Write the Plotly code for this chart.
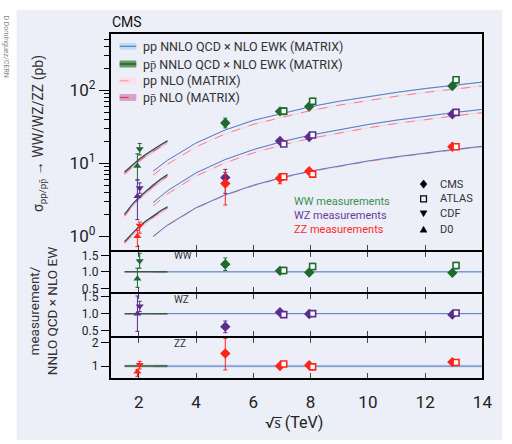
import plotly.graph_objects as go

# ---------------- theory predictions (pb) ----------------
sqrt_s_pp = [2.5, 3, 4, 5, 6, 7, 8, 9, 10, 11, 12, 13, 14]
ww_nnlo_pp = [7.8, 11.0, 19.0, 28.5, 38.8, 48.6, 59.8, 71.0, 82.5, 94.0, 106.0, 118.0, 130.0]
ww_nlo_pp = [6.9, 9.7, 16.8, 25.2, 34.3, 43.0, 52.9, 62.8, 73.0, 83.2, 93.8, 104.4, 115.0]
wz_nnlo_pp = [2.9, 4.2, 7.4, 11.2, 15.4, 19.8, 24.4, 29.1, 34.0, 39.1, 44.3, 49.6, 55.0]
wz_nlo_pp = [2.6, 3.8, 6.7, 10.1, 13.9, 17.8, 22.0, 26.2, 30.6, 35.2, 39.9, 44.6, 49.5]
zz_nnlo_pp = [1.0, 1.42, 2.46, 3.67, 5.0, 6.4, 7.82, 9.27, 10.76, 12.3, 13.87, 15.47, 17.1]
zz_nlo_pp = [0.985, 1.40, 2.43, 3.62, 4.93, 6.31, 7.71, 9.14, 10.6, 12.1, 13.67, 15.25, 16.85]

sqrt_s_ppbar = [1.5, 1.75, 2.0, 2.25, 2.5, 2.75, 3.0]
ww_nnlo_ppbar = [7.6, 9.4, 11.3, 13.3, 15.5, 17.8, 20.3]
ww_nlo_ppbar = [7.2, 8.9, 10.7, 12.6, 14.7, 16.9, 19.3]
wz_nnlo_ppbar = [2.0, 2.67, 3.4, 4.2, 5.05, 6.0, 7.0]
wz_nlo_ppbar = [1.9, 2.55, 3.25, 4.0, 4.8, 5.7, 6.65]
zz_nnlo_ppbar = [0.84, 1.08, 1.35, 1.62, 1.92, 2.22, 2.53]
zz_nlo_ppbar = [0.81, 1.04, 1.30, 1.56, 1.85, 2.14, 2.44]

# relative half-widths of the uncertainty bands
band_pp_nnlo = 0.018
band_pp_nlo = 0.02
band_ppbar_nnlo = 0.02
band_ppbar_nlo = 0.05
ratio_band = {"WW": 0.02, "WZ": 0.02, "ZZ": 0.06}

# ---------------- measurements ----------------
# each entry: sqrt(s) (TeV), sigma, +err, -err, ratio, +err, -err
ww_d0 = dict(x=[1.95], y=[9.2], up=[4.3], dn=[3.3], r=[0.79], rup=[0.32], rdn=[0.26])
ww_cdf = dict(x=[2.03], y=[15.7], up=[3.0], dn=[2.7], r=[1.33], rup=[0.23], rdn=[0.22])
ww_cms = dict(x=[5.02, 6.93, 7.95, 12.95], y=[35.7, 51.5, 60.0, 114.5],
              up=[5.9, 4.0, 5.0, 8.0], dn=[5.1, 4.0, 5.0, 8.0],
              r=[1.23, 1.03, 0.98, 0.97], rup=[0.19, 0.07, 0.08, 0.07], rdn=[0.19, 0.07, 0.08, 0.07])
ww_atlas = dict(x=[7.06, 8.07, 13.08], y=[51.9, 71.1, 140.0], up=[5.5, 7.0, 15.0], dn=[5.5, 7.0, 15.0],
                r=[1.04, 1.16, 1.19], rup=[0.1, 0.1, 0.1], rdn=[0.1, 0.1, 0.1])

wz_d0 = dict(x=[1.95], y=[3.54], up=[2.4], dn=[1.85], r=[1.0], rup=[0.53], rdn=[0.53])
wz_cdf = dict(x=[2.03], y=[4.58], up=[0.8], dn=[0.7], r=[1.22], rup=[0.15], rdn=[0.16])
wz_cms = dict(x=[5.02, 6.93, 7.95, 12.95], y=[6.36, 20.3, 22.9, 47.1],
              up=[1.9, 1.5, 1.5, 2.5], dn=[2.5, 1.5, 1.5, 2.5],
              r=[0.61, 1.04, 0.99, 0.97], rup=[0.17, 0.06, 0.05, 0.05], rdn=[0.18, 0.06, 0.05, 0.05])
wz_atlas = dict(x=[7.06, 8.07, 13.08], y=[18.4, 24.4, 50.0], up=[1.3, 1.2, 2.5], dn=[1.3, 1.2, 2.5],
                r=[0.97, 1.0, 1.02], rup=[0.06, 0.05, 0.05], rdn=[0.06, 0.05, 0.05])

zz_d0 = dict(x=[1.95], y=[1.0], up=[0.2], dn=[0.28], r=[0.76], rup=[0.1], rdn=[0.19])
zz_cdf = dict(x=[2.03], y=[1.40], up=[0.16], dn=[0.3], r=[1.06], rup=[0.14], rdn=[0.18])
zz_cms = dict(x=[5.02, 6.93, 7.95, 12.95], y=[5.28, 6.24, 7.8, 16.9],
              up=[2.2, 0.9, 0.6, 0.9], dn=[2.6, 1.0, 0.6, 0.9],
              r=[1.53, 1.0, 1.04, 1.17], rup=[0.64, 0.1, 0.06, 0.06], rdn=[0.69, 0.1, 0.06, 0.06])
zz_atlas = dict(x=[7.06, 8.07, 13.08], y=[6.55, 7.1, 16.9], up=[0.6, 0.5, 1.0], dn=[0.6, 0.5, 1.0],
                r=[1.09, 0.97, 1.15], rup=[0.08, 0.06, 0.06], rdn=[0.08, 0.06, 0.06])

x_ticks = [2, 4, 6, 8, 10, 12, 14]
y_major = [1, 10, 100]
y_major_text = ["10<sup>0</sup>", "10<sup>1</sup>", "10<sup>2</sup>"]
y_minor = [2, 3, 4, 5, 6, 7, 8, 9, 20, 30, 40, 50, 60, 70, 80, 90, 200, 300, 400, 500]

# ---------------- styling ----------------
W, H = 512, 444
BG = "#eceef8"
FONT = "Roboto"
C_WW, C_WZ, C_ZZ = "#1d6a2e", "#5b2d8e", "#ff2418"
C_PP = "#5a7cc4"
C_PP_BAND = "rgba(160,195,235,0.5)"
C_NLO = "#ff7b85"
C_NLO_BAND = "rgba(255,190,200,0.4)"
C_PPBAR = "#34484a"
C_PPBAR_BAND = "rgba(90,140,100,0.4)"
C_PPBAR_NLO_BAND = "rgba(225,130,185,0.45)"
LW = 2  # frame line width


def px(x):
    return x / W


def py(y):
    return 1 - y / H


fig = go.Figure()


def band(x, vals, frac, color, xa, ya):
    hi = [v * (1 + frac) for v in vals]
    lo = [v * (1 - frac) for v in vals]
    fig.add_trace(go.Scatter(x=x, y=hi, mode="lines", line=dict(width=0), hoverinfo="skip",
                             showlegend=False, xaxis=xa, yaxis=ya))
    fig.add_trace(go.Scatter(x=x, y=lo, mode="lines", line=dict(width=0), fill="tonexty",
                             fillcolor=color, hoverinfo="skip", showlegend=False, xaxis=xa, yaxis=ya))


def line(x, vals, color, width, dash, xa, ya):
    fig.add_trace(go.Scatter(x=x, y=vals, mode="lines", line=dict(color=color, width=width, dash=dash),
                             hoverinfo="skip", showlegend=False, xaxis=xa, yaxis=ya))


# theory curves in the cross-section panel
for nnlo, nlo in [(ww_nnlo_pp, ww_nlo_pp), (wz_nnlo_pp, wz_nlo_pp), (zz_nnlo_pp, zz_nlo_pp)]:
    band(sqrt_s_pp, nlo, band_pp_nlo, C_NLO_BAND, "x", "y")
    band(sqrt_s_pp, nnlo, band_pp_nnlo, C_PP_BAND, "x", "y")
    line(sqrt_s_pp, nlo, C_NLO, 1, "dash", "x", "y")
    line(sqrt_s_pp, nnlo, C_PP, 1, "solid", "x", "y")

for nnlo, nlo in [(ww_nnlo_ppbar, ww_nlo_ppbar), (wz_nnlo_ppbar, wz_nlo_ppbar), (zz_nnlo_ppbar, zz_nlo_ppbar)]:
    band(sqrt_s_ppbar, nlo, band_ppbar_nlo, C_PPBAR_NLO_BAND, "x", "y")
    band(sqrt_s_ppbar, nnlo, band_ppbar_nnlo, C_PPBAR_BAND, "x", "y")
    line(sqrt_s_ppbar, nlo, "#e8506e", 1, "dash", "x", "y")
    line(sqrt_s_ppbar, nnlo, C_PPBAR, 1.2, "solid", "x", "y")

# theory reference lines in the ratio panels
for name, ya in [("WW", "y2"), ("WZ", "y3"), ("ZZ", "y4")]:
    xa = "x" + ya[1:]
    ones_pp = [1.0] * len(sqrt_s_pp)
    ones_ppbar = [1.0] * len(sqrt_s_ppbar)
    band(sqrt_s_pp, ones_pp, ratio_band[name], C_PP_BAND, xa, ya)
    line(sqrt_s_pp, ones_pp, C_PP, 1, "solid", xa, ya)
    band(sqrt_s_ppbar, ones_ppbar, ratio_band[name], "rgba(110,160,110,0.5)", xa, ya)
    line(sqrt_s_ppbar, ones_ppbar, "#3c5a48", 1.5, "solid", xa, ya)

# measurements
SYMBOLS = {"cms": "diamond", "atlas": "square", "cdf": "triangle-down", "d0": "triangle-up"}
SIZES = {"cms": 8, "atlas": 6, "cdf": 7, "d0": 7}
sets = [
    (C_WW, "y2", {"d0": ww_d0, "cdf": ww_cdf, "cms": ww_cms, "atlas": ww_atlas}),
    (C_WZ, "y3", {"d0": wz_d0, "cdf": wz_cdf, "cms": wz_cms, "atlas": wz_atlas}),
    (C_ZZ, "y4", {"d0": zz_d0, "cdf": zz_cdf, "cms": zz_cms, "atlas": zz_atlas}),
]
for color, ya, exps in sets:
    xa = "x" + ya[1:]
    for key in ["d0", "cdf", "cms", "atlas"]:
        d = exps[key]
        open_marker = key == "atlas"
        marker = dict(symbol=SYMBOLS[key], size=SIZES[key],
                      color="white" if open_marker else color,
                      line=dict(color=color, width=1.6 if open_marker else 0))
        fig.add_trace(go.Scatter(
            x=d["x"], y=d["y"], mode="markers", marker=marker, showlegend=False,
            error_y=dict(type="data", array=d["up"], arrayminus=d["dn"], color=color, thickness=1, width=2),
            xaxis="x", yaxis="y"))
        fig.add_trace(go.Scatter(
            x=d["x"], y=d["r"], mode="markers", marker=marker, showlegend=False,
            error_y=dict(type="data", array=d["rup"], arrayminus=d["rdn"], color=color, thickness=1, width=2),
            xaxis=xa, yaxis=ya))

# ---------------- axes ----------------
# frame lines (page pixels): top of main panel, panel separators, bottom of ZZ panel
b0, b1, b2, b3, b4 = 30.7, 252, 294.3, 339, 382
half = LW / 2
x_dom = [px(112 + half), px(493 - half)]
x_range = [1.02, 14]
axis_common = dict(showgrid=False, zeroline=False, showline=True, linecolor="black", linewidth=LW)
xcommon = dict(axis_common, range=x_range, domain=x_dom, tickvals=x_ticks,
               tickcolor="#444", tickwidth=1, ticklen=5)
ratio_tickfont = dict(size=12, color="#222")


def ydom(top, bottom):
    return [py(bottom - half), py(top + half)]


fig.update_layout(
    xaxis=dict(xcommon, anchor="y", ticks="inside", mirror=True, showticklabels=False),
    yaxis=dict(axis_common, type="log", range=[-0.19, 2.771], domain=ydom(b0, b1), anchor="x",
               tickvals=y_major, ticktext=y_major_text,
               ticks="outside", ticklen=10, tickcolor="black", mirror=True,
               tickfont=dict(size=17, color="#222"),
               minor=dict(tickvals=y_minor, ticks="outside", ticklen=5, tickcolor="black")),
    xaxis2=dict(xcommon, anchor="y2", ticks="inside", mirror="ticks", showticklabels=False),
    yaxis2=dict(axis_common, range=[0.4, 1.6], domain=ydom(b1, b2), anchor="x2",
                tickvals=[0.5, 1.0, 1.5], ticktext=["0.5", "1.0", "1.5"], ticks="outside", ticklen=8,
                tickcolor="black", mirror=True, tickfont=ratio_tickfont),
    xaxis3=dict(xcommon, anchor="y3", ticks="inside", mirror="ticks", showticklabels=False),
    yaxis3=dict(axis_common, range=[0.34, 1.6], domain=ydom(b2, b3), anchor="x3",
                tickvals=[0.5, 1.0, 1.5], ticktext=["0.5", "1.0", "1.5"], ticks="outside", ticklen=8,
                tickcolor="black", mirror=True, tickfont=ratio_tickfont),
    xaxis4=dict(xcommon, anchor="y4", ticks="inside", mirror="ticks", showticklabels=True,
                tickfont=dict(size=17, color="#222"), ticklabelstandoff=8),
    yaxis4=dict(axis_common, range=[0.5, 2.2], domain=ydom(b3, b4), anchor="x4",
                tickvals=[1, 2], ticktext=["1", "2"], ticks="outside", ticklen=8,
                tickcolor="black", mirror=True, tickfont=ratio_tickfont),
)

# ---------------- decorations ----------------
shapes = [dict(type="rect", xref="paper", yref="paper", x0=px(17), x1=1, y0=0, y1=py(7),
               fillcolor=BG, line=dict(width=0), layer="below")]
ann = []


def text(x, y, s, size, color="#222", anchor="left", angle=0, yanchor="middle"):
    ann.append(dict(x=px(x), y=py(y), xref="paper", yref="paper", text=s, showarrow=False,
                    xanchor=anchor, yanchor=yanchor, textangle=angle,
                    font=dict(size=size, color=color, family=FONT)))


# theory legend
leg_rows = [
    (44, "pp NNLO QCD × NLO EWK (MATRIX)", "rgba(185,218,245,0.9)", C_PP, "solid"),
    (62, "pp̄ NNLO QCD × NLO EWK (MATRIX)", "#5f9a5f", "#1d4a2a", "solid"),
    (79, "pp NLO (MATRIX)", "rgba(255,220,228,0.8)", "#ff9aa0", "dash"),
    (96, "pp̄ NLO (MATRIX)", "#d9a0c8", "#e0405e", "dash"),
]
for yc, label, fillc, linec, dash in leg_rows:
    shapes.append(dict(type="rect", xref="paper", yref="paper", x0=px(122), x1=px(139),
                       y0=py(yc + 3.5), y1=py(yc - 3.5), fillcolor=fillc, line=dict(width=0)))
    shapes.append(dict(type="line", xref="paper", yref="paper", x0=px(122), x1=px(139),
                       y0=py(yc), y1=py(yc), line=dict(color=linec, width=1.2, dash=dash)))
    text(144, yc, label, 12.5, "#333")

# measurement colour legend
text(298, 202, "WW measurements", 11, "#3f8f50")
text(298, 216, "WZ measurements", 11, "#6a3d9a")
text(298, 230, "ZZ measurements", 11, "#ff2a2a")


# experiment marker legend glyphs (small SVG paths in page pixels)
def glyph(kind, cx, cy, r=3.5):
    pts = {
        "diamond": [(0, -r * 1.2), (r, 0), (0, r * 1.2), (-r, 0)],
        "square": [(-r * 0.85, -r * 0.85), (r * 0.85, -r * 0.85), (r * 0.85, r * 0.85), (-r * 0.85, r * 0.85)],
        "down": [(-r, -r * 0.8), (r, -r * 0.8), (0, r * 0.9)],
        "up": [(-r, r * 0.8), (r, r * 0.8), (0, -r * 0.9)],
    }[kind]
    path = "M " + " L ".join(f"{px(cx + dx):.5f},{py(cy + dy):.5f}" for dx, dy in pts) + " Z"
    filled = kind != "square"
    return dict(type="path", xref="paper", yref="paper", path=path,
                fillcolor="black" if filled else "rgba(0,0,0,0)",
                line=dict(color="black", width=1.2 if not filled else 0.5))


for yc, kind, label in [(184, "diamond", "CMS"), (199, "square", "ATLAS"),
                        (214, "down", "CDF"), (230, "up", "D0")]:
    shapes.append(glyph(kind, 432, yc))
    text(447, yc, label, 11, "#333")

# panel labels
text(175, 257, "WW", 10, "#333")
text(175, 301, "WZ", 10, "#333")
text(175, 346, "ZZ", 10, "#333")

# titles
text(112, 19, "CMS", 14, "#111")
text(40, 133, "σ<sub>pp/pp̄</sub> → WW/WZ/ZZ (pb)", 14, "#333", anchor="center", angle=-90)
text(44, 313, "measurement/<br>NNLO QCD × NLO EW", 13.5, "#333", anchor="center", angle=-90)
text(300, 426, "√s̅ (TeV)", 16, "#222", anchor="center")
text(6, 44, "D Dominguez/CERN", 7, "#888", anchor="center", angle=90)

fig.update_layout(
    width=W, height=H, margin=dict(l=0, r=0, t=0, b=0),
    paper_bgcolor="white", plot_bgcolor=BG,
    font=dict(family=FONT, color="#222"),
    shapes=shapes, annotations=ann, showlegend=False,
)

fig.write_html("out.html")
